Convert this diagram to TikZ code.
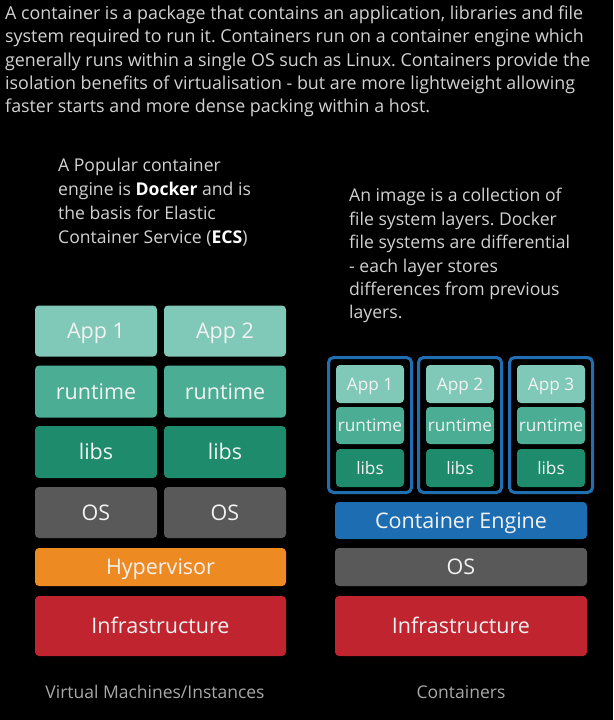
\documentclass[tikz,border=0pt]{standalone}
\usepackage{fontspec}
\setmainfont{Open Sans}
\frenchspacing
\definecolor{bg}{HTML}{000000}
\definecolor{paratext}{HTML}{D2D2D2}
\definecolor{boxtext}{HTML}{F2F2F2}
\definecolor{labeltext}{HTML}{A8A8A8}
\definecolor{appc}{HTML}{80C9B8}
\definecolor{runc}{HTML}{4BAE94}
\definecolor{libc}{HTML}{1E8B6C}
\definecolor{osc}{HTML}{595959}
\definecolor{hypc}{HTML}{EE8A22}
\definecolor{infc}{HTML}{C0252F}
\definecolor{engc}{HTML}{1D6DB3}
\definecolor{ctrc}{HTML}{1F6FB2}
\begin{document}
\begin{tikzpicture}[x=1pt,y=-1pt,
  layer/.style={rounded corners=4pt, text=boxtext, inner sep=0pt,
    text height=15.4pt, text depth=0pt, font=\fontsize{21.5}{24}\selectfont},
  smalllayer/.style={layer, text height=12.3pt, font=\fontsize{17.2}{20}\selectfont},
  para/.style={anchor=base west, inner sep=0pt, text=paratext, font=\fontsize{17.6}{20}\selectfont},
  toppara/.style={para, font=\fontsize{17.85}{20}\selectfont},
  caption/.style={anchor=base, inner sep=0pt, text=labeltext, font=\fontsize{17.5}{20}\selectfont},
  ctr/.style={draw=ctrc, line width=3pt, rounded corners=5pt, minimum width=83pt, minimum height=135pt, inner sep=0pt}
]
\fill[bg] (0,0) rectangle (613,720);
\useasboundingbox (0,0) rectangle (613,720);

% top paragraph
\node[toppara] (t1) at (5,19.3) {A container is a package that contains an application, libraries and file};
\node[toppara] (t2) at (5,42.7) {system required to run it. Containers run on a container engine which};
\node[toppara] (t3) at (5,66) {generally runs within a single OS such as Linux. Containers provide the};
\node[toppara] (t4) at (5,89.3) {isolation benefits of virtualisation - but are more lightweight allowing};
\node[toppara] (t5) at (5,112.7) {faster starts and more dense packing within a host.};

% left paragraph
\node[para] (l1) at (58,171) {A Popular container};
\node[para] (l2) at (58,195) {engine is \textcolor{white}{\textbf{Docker}} and is};
\node[para] (l3) at (58,219) {the basis for Elastic};
\node[para] (l4) at (58,243) {Container Service (\textcolor{white}{\textbf{ECS}})};

% right paragraph
\node[para] (r1) at (349,201) {An image is a collection of};
\node[para] (r2) at (349,225) {file system layers. Docker};
\node[para] (r3) at (349,248.5) {file systems are differential};
\node[para] (r4) at (349,272) {- each layer stores};
\node[para] (r5) at (349,295) {differences from previous};
\node[para] (r6) at (349,318) {layers.};

% left stack: virtual machines
\node[layer, fill=appc, minimum width=122pt, minimum height=51pt] (vapp1) at (96,331) {App 1};
\node[layer, fill=appc, minimum width=122pt, minimum height=51pt] (vapp2) at (225,331) {App 2};
\node[layer, fill=runc, minimum width=122pt, minimum height=52pt] (vrun1) at (96,391.5) {runtime};
\node[layer, fill=runc, minimum width=122pt, minimum height=52pt] (vrun2) at (225,391.5) {runtime};
\node[layer, fill=libc, minimum width=122pt, minimum height=52pt] (vlib1) at (96,452) {libs};
\node[layer, fill=libc, minimum width=122pt, minimum height=52pt] (vlib2) at (225,452) {libs};
\node[layer, fill=osc, minimum width=122pt, minimum height=51pt] (vos1) at (96,512.5) {OS};
\node[layer, fill=osc, minimum width=122pt, minimum height=51pt] (vos2) at (225,512.5) {OS};
\node[layer, fill=hypc, minimum width=251pt, minimum height=38pt] (hyp) at (160.5,567) {Hypervisor};
\node[layer, fill=infc, minimum width=251pt, minimum height=60pt] (vinf) at (160.5,626) {Infrastructure};

% right stack: containers
\foreach \i/\cx in {1/370,2/460,3/551}{
  \node[ctr] (c\i) at (\cx,425) {};
  \node[smalllayer, fill=appc, minimum width=68pt, minimum height=38pt] (capp\i) at (\cx,384) {App \i};
  \node[smalllayer, fill=runc, minimum width=68pt, minimum height=37pt] (crun\i) at (\cx,425.5) {runtime};
  \node[smalllayer, fill=libc, minimum width=68pt, minimum height=38pt] (clib\i) at (\cx,468) {libs};
}
\node[layer, fill=engc, minimum width=252pt, minimum height=37pt] (eng) at (461,520.5) {Container Engine};
\node[layer, fill=osc, minimum width=252pt, minimum height=38pt] (cos) at (461,567) {OS};
\node[layer, fill=infc, minimum width=252pt, minimum height=60pt] (cinf) at (461,626) {Infrastructure};

% captions
\node[caption] (vmcap) at (155,698) {Virtual Machines/Instances};
\node[caption] (ctcap) at (461,698) {Containers};
\end{tikzpicture}
\end{document}
